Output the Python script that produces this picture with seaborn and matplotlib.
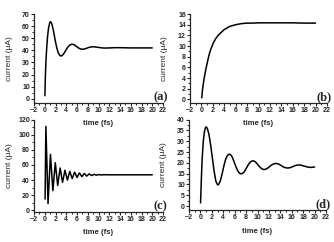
#!/usr/bin/env python
# -*- coding: utf-8 -*-
"""Current vs time, four panels"""

import pandas as pd
import seaborn as sns
import matplotlib.pyplot as plt
from matplotlib.ticker import MultipleLocator

# Panel (a): damped response, settles near 42 uA
t_a = [0.02, 0.1, 0.2, 0.35, 0.5, 0.7, 0.9, 1.0, 1.1, 1.3, 1.6, 1.9, 2.2,
       2.5, 2.8, 3.0, 3.2, 3.5, 3.8, 4.1, 4.4, 4.7, 5.0, 5.2, 5.5, 5.8,
       6.1, 6.4, 6.7, 7.0, 7.3, 7.6, 7.9, 8.2, 8.5, 8.8, 9.2, 9.6, 10.0,
       10.5, 11.0, 11.5, 12.0, 13.0, 14.0, 15.0, 16.0, 17.0, 18.0, 19.0,
       20.0]
i_a = [2.5, 18, 30, 42, 51, 58.5, 62.5, 63.5, 63.6, 62, 56.5, 49, 42.5,
       38, 35.8, 35.3, 35.6, 37, 39.2, 41.5, 43.3, 44.5, 45.0, 45.0, 44.5,
       43.5, 42.5, 41.6, 41.1, 40.9, 41, 41.4, 41.9, 42.4, 42.7, 42.9,
       42.9, 42.7, 42.4, 42.1, 41.9, 41.9, 42.0, 42.2, 42.2, 42.1, 42.0,
       42.0, 42.0, 42.0, 42.0]

# Panel (b): monotonic rise to ~14.3 uA
t_b = [0.05, 0.2, 0.4, 0.6, 0.8, 1.0, 1.3, 1.6, 2.0, 2.5, 3.0, 3.5, 4.0,
       4.5, 5.0, 6.0, 7.0, 8.0, 9.0, 10.0, 12.0, 14.0, 16.0, 18.0, 20.0]
i_b = [0.3, 2.0, 3.5, 4.7, 5.8, 6.8, 8.2, 9.3, 10.4, 11.4, 12.1, 12.6,
       13.1, 13.4, 13.7, 14.0, 14.2, 14.3, 14.3, 14.35, 14.35, 14.35,
       14.35, 14.3, 14.3]

# Panel (c): fast ringing, settles near 47 uA
t_c = [0.05, 0.2, 0.6, 1.05, 1.5, 1.95, 2.4, 2.85, 3.3, 3.75, 4.2, 4.65,
       5.1, 5.55, 6.0, 6.45, 6.9, 7.35, 7.8, 8.25, 8.7, 9.15, 9.6, 10.05,
       10.5, 11.0, 12.0, 20.0]
i_c = [15, 111, 9, 74, 26, 63, 33, 56, 37, 53, 40, 51.5, 42, 50.5, 43.5,
       49.5, 44.5, 48.8, 45.3, 48.2, 46, 47.6, 46.5, 47.3, 46.8, 47.1, 47,
       47]

# Panel (d): slow ringing, settles near 18 uA
t_d = [0.02, 0.15, 0.3, 0.5, 0.7, 0.9, 1.0, 1.2, 1.5, 1.8, 2.1, 2.4, 2.7,
       3.0, 3.2, 3.5, 3.8, 4.1, 4.4, 4.7, 5.0, 5.2, 5.5, 5.8, 6.1, 6.4,
       6.7, 7.0, 7.3, 7.6, 7.9, 8.2, 8.5, 8.8, 9.1, 9.3, 9.6, 9.9, 10.2,
       10.5, 10.8, 11.1, 11.4, 11.7, 12.0, 12.3, 12.6, 12.9, 13.2, 13.5,
       13.8, 14.1, 14.4, 14.7, 15.0, 15.3, 15.6, 15.9, 16.2, 16.5, 16.8,
       17.1, 17.4, 17.7, 18.0, 18.3, 18.6, 18.9, 19.2, 19.5, 19.8, 20.0]
i_d = [1.5, 12, 22, 30, 34.5, 36.4, 36.6, 36, 33, 28, 22, 16, 11.5, 9.8,
       10, 11.8, 15, 18.5, 21.5, 23.3, 24, 23.9, 23, 21.2, 19, 17, 15.6,
       15, 15, 15.6, 16.8, 18.3, 19.6, 20.5, 20.9, 20.9, 20.5, 19.7, 18.7,
       17.8, 17.2, 16.9, 17, 17.4, 18, 18.7, 19.2, 19.6, 19.7, 19.6, 19.3,
       18.8, 18.3, 17.9, 17.7, 17.6, 17.7, 17.9, 18.3, 18.6, 18.9, 19.0,
       19.0, 18.9, 18.6, 18.4, 18.2, 18.0, 17.9, 17.9, 18.0, 18.1]

panel_names = ['(a)', '(b)', '(c)', '(d)']
y_limits = [(-3.2, 70), (-0.6, 16), (-1.5, 120), (-1.6, 40)]
y_major = [10, 2, 20, 5]
xlabel_y = [-0.20, -0.20, -0.19, -0.20]

sns.set_style('ticks')
plt.rcParams['font.family'] = ['Liberation Sans', 'DejaVu Sans']

fig = plt.figure(figsize=(3.34, 2.42), dpi=100)
boxes = [[0.102, 0.576, 0.386, 0.366],
         [0.569, 0.576, 0.410, 0.366],
         [0.102, 0.126, 0.386, 0.380],
         [0.566, 0.134, 0.410, 0.372]]

series = [(t_a, i_a), (t_b, i_b), (t_c, i_c), (t_d, i_d)]

for k, (tt, ii) in enumerate(series):
    ax = fig.add_axes(boxes[k])
    ax.patch.set_alpha(0)
    df = pd.DataFrame({'time': tt, 'current': ii})
    sns.lineplot(data=df, x='time', y='current', ax=ax, color='black',
                 linewidth=1.1, sort=False)
    sns.despine(ax=ax)
    ax.set_xlim(-2, 22)
    ax.set_ylim(*y_limits[k])
    ax.xaxis.set_major_locator(MultipleLocator(2))
    ax.xaxis.set_minor_locator(MultipleLocator(1))
    ax.yaxis.set_major_locator(MultipleLocator(y_major[k]))
    ax.yaxis.set_minor_locator(MultipleLocator(y_major[k] / 2))
    ax.tick_params(which='major', length=2, width=0.8, pad=1,
                   labelsize=5)
    ax.tick_params(which='minor', length=1.2, width=0.7)
    for lab in ax.get_xticklabels() + ax.get_yticklabels():
        lab.set_fontweight('bold')
    for sp in ['left', 'bottom']:
        ax.spines[sp].set_linewidth(0.9)
    ax.set_xlabel('time (fs)', fontsize=5.5, fontweight='bold')
    ax.set_ylabel('current (\u03bcA)', fontsize=6)
    ax.xaxis.set_label_coords(0.5, xlabel_y[k])
    ax.yaxis.set_label_coords(-0.16, 0.5)
    ax.text(0.98, 0.06, panel_names[k], transform=ax.transAxes,
            ha='center', va='center', fontsize=9, fontweight='bold',
            family=['Liberation Serif', 'DejaVu Serif'])

fig.savefig('out.png', dpi=100)
